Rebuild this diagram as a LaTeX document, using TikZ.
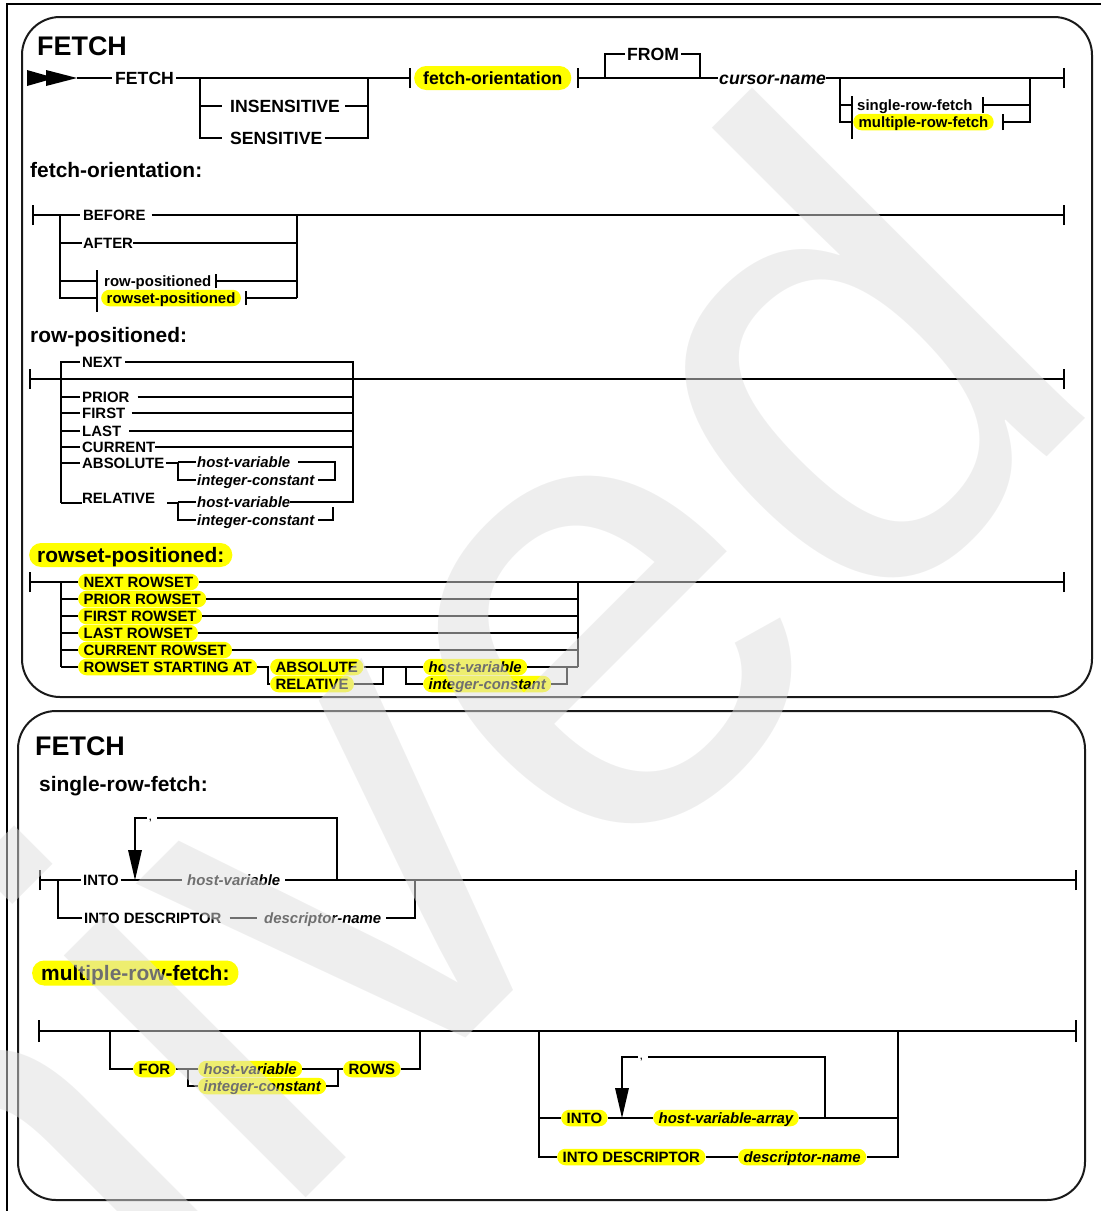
\documentclass[tikz,border=0pt]{standalone}
\usepackage{fontspec}
\setmainfont{Liberation Sans}
\definecolor{wmgray}{gray}{0.87}
\definecolor{hl}{RGB}{255,255,0}
\newcommand\termbar[2][10]{\draw[ln] ([yshift=-#1bp]#2) -- ([yshift=#1bp]#2);}
\begin{document}
\begin{tikzpicture}[x=1bp,y=-1bp,
  ln/.style={line width=1.3bp,black},
  frame/.style={line width=2bp,black!90,rounded corners=38bp},
  base/.style={inner sep=0pt,anchor=west},
  title/.style={base,font=\fontsize{27}{30}\selectfont\bfseries,text height=19.3bp,text depth=0pt},
  hd/.style={base,font=\fontsize{21}{24}\selectfont\bfseries,text height=15bp,text depth=0pt},
  big/.style={base,font=\fontsize{17.7}{20}\selectfont\bfseries,text height=12.7bp,text depth=0pt},
  bigi/.style={base,font=\fontsize{17.7}{20}\selectfont\bfseries\itshape,text height=12.7bp,text depth=0pt},
  mid/.style={base,font=\fontsize{15}{17}\selectfont\bfseries,text height=10.7bp,text depth=0pt},
  midi/.style={base,font=\fontsize{15}{17}\selectfont\bfseries\itshape,text height=10.7bp,text depth=0pt},
  pillL/.style={fill=hl,inner xsep=9bp,inner ysep=0pt,minimum height=24bp,rounded corners=11.9bp},
  pillH/.style={fill=hl,inner xsep=8bp,inner ysep=0pt,minimum height=24bp,rounded corners=11.9bp},
  pillM/.style={fill=hl,inner xsep=5.5bp,inner ysep=0pt,minimum height=16.5bp,rounded corners=8.2bp},
  commamark/.style={inner sep=0pt,anchor=base west,font=\fontsize{9}{9}\selectfont\bfseries},
]
\useasboundingbox (0,0) rectangle (1101,1211);
\clip (0,0) rectangle (1101,1211);

% page rule and the two panels
\draw[line width=1.3bp] (7,1211) -- (7,4) -- (1101,4);
\draw[frame] (22,17) rectangle (1092,697);
\draw[frame] (18,711) rectangle (1085,1200);

%% ---------------- panel 1: FETCH statement ----------------
\node[title] (t1) at (37,46) {FETCH};

% statement start marker
\fill (27,70) -- (55,78) -- (27,86) -- cycle;
\fill (46,70) -- (77,78) -- (46,86) -- cycle;
\coordinate (m1) at (77,78);
\node[big] (kfetch) at (115,78) {FETCH};
\draw[ln] (m1) -- ([xshift=-3bp]kfetch.west);
\coordinate (b1) at (410,78);
\draw[ln] ([xshift=2bp]kfetch.east) -- (b1);

% optional sensitivity
\coordinate (j1) at (200,78);
\coordinate (j2) at (368,78);
\node[big] (kins) at (230,106) {INSENSITIVE};
\node[big] (ksens) at (230,138) {SENSITIVE};
\draw[ln] (j1) |- ([xshift=-8bp]ksens.west);
\draw[ln] (j1 |- kins.west) -- ([xshift=-8bp]kins.west);
\draw[ln] ([xshift=5bp]kins.east) -| (j2);
\draw[ln] ([xshift=2bp]ksens.east) -| (j2);

% fetch-orientation reference
\termbar{b1}
\node[big,pillL] (pfo) at (414,78) {fetch-orientation};
\coordinate (b2) at (578,78);
\termbar{b2}

% optional FROM
\coordinate (f1) at (605,78);
\coordinate (f2) at (700,78);
\node[big] (kfrom) at (627,54) {FROM};
\draw[ln] (f1) |- ([xshift=-2bp]kfrom.west);
\draw[ln] ([xshift=2bp]kfrom.east) -| (f2);
\node[bigi] (kcur) at (719,78) {cursor-name};
\draw[ln] (b2) -- ([xshift=-1bp]kcur.west);
\coordinate (b3) at (1064,78);
\draw[ln] (kcur.east) -- (b3);
\termbar{b3}

% optional fetch clause
\coordinate (j3) at (840,78);
\coordinate (j4) at (1030,78);
\coordinate (bb) at (852,117);
\node[mid] (ksrf) at (857,105) {single-row-fetch};
\node[mid,pillM] (pmrf) at (853,122) {multiple-row-fetch};
\draw[ln] (852,96) -- (852,139);
\draw[ln] (j3) |- (bb |- pmrf.west);
\draw[ln] (j3 |- ksrf.west) -- (bb |- ksrf.west);
\coordinate (b4) at (983,105);
\coordinate (b5) at (1003,122);
\termbar[8]{b4}
\termbar[8]{b5}
\draw[ln] (b4) -| (j4);
\draw[ln] (b5) -| (j4);

%% fetch-orientation
\node[hd] (h1) at (30,170) {fetch-orientation:};
\coordinate (s1) at (33,215);
\coordinate (e1) at (1064,215);
\termbar{s1}
\termbar{e1}
\node[mid] (kbefore) at (83,215) {BEFORE};
\draw[ln] (s1) -- ([xshift=-3bp]kbefore.west);
\draw[ln] ([xshift=6bp]kbefore.east) -- (e1);
\coordinate (j5) at (60,215);
\coordinate (j6) at (297,215);
\node[mid] (kafter) at (83,243) {AFTER};
\node[mid] (krp) at (104,281) {row-positioned};
\node[mid,pillM] (prsp) at (101,298) {rowset-positioned};
\coordinate (vb) at (97,290);
\draw[ln] (97,270) -- (97,312);
\draw[ln] (j5) |- (vb |- prsp.west);
\draw[ln] (j5 |- kafter.west) -- ([xshift=-1bp]kafter.west);
\draw[ln] (j5 |- krp.west) -- (vb |- krp.west);
\draw[ln] (kafter.east) -- (j6 |- kafter.west);
\coordinate (b6) at (216,281);
\coordinate (b7) at (246,298);
\termbar[7]{b6}
\termbar[7]{b7}
\draw[ln] (b6) -- (j6 |- b6);
\draw[ln] (b7) -- (j6 |- b7);
\draw[ln] (j6) -- (j6 |- b7);

%% row-positioned
\node[hd] (h2) at (30,335) {row-positioned:};
\coordinate (s2) at (30,379);
\coordinate (e2) at (1064,379);
\termbar{s2}
\termbar{e2}
\draw[ln] (s2) -- (e2);
\coordinate (rl) at (61,362);
\coordinate (rr) at (353,362);
\node[mid] (knext) at (82,362) {NEXT};
\node[mid] (kprior) at (82,397) {PRIOR};
\node[mid] (kfirst) at (82,413) {FIRST};
\node[mid] (klast) at (82,431) {LAST};
\node[mid] (kcurrent) at (82,447) {CURRENT};
\node[mid] (kabs) at (82,463) {ABSOLUTE};
\node[mid] (krel) at (82,498) {RELATIVE};
\draw[ln] (61,503) -- (rl) -- ([xshift=-2bp]knext.west);
\draw[ln] ([xshift=3bp]knext.east) -- (rr) -- (353,503);
\foreach \k/\g in {kprior/8,kfirst/6,klast/8,kcurrent/0}{
  \draw[ln] (rl |- \k.west) -- ([xshift=-2bp]\k.west);
  \draw[ln] ([xshift=\g bp]\k.east) -- (rr |- \k.west);
}
\draw[ln] (rl |- kabs.west) -- ([xshift=-2bp]kabs.west);
\draw[ln] (61,503) -- (82,503);
% ABSOLUTE operand
\node[midi] (khv1) at (197,462) {host-variable};
\node[midi] (kic1) at (197,480) {integer-constant};
\draw[ln] ([xshift=1bp]kabs.east) -- (178,463) -- (178,480) -- ([xshift=-1bp]kic1.west);
\draw[ln] (178,462) -- ([xshift=-1bp]khv1.west);
\draw[ln] ([xshift=8bp]khv1.east) -- (335,462) -- (335,480) -- ([xshift=4bp]kic1.east);
% RELATIVE operand
\node[midi] (khv2) at (197,502) {host-variable};
\node[midi] (kic2) at (197,520) {integer-constant};
\draw[ln] (167,503) -- (178,503) -- (178,520) -- ([xshift=-1bp]kic2.west);
\draw[ln] (178,502) -- ([xshift=-1bp]khv2.west);
\draw[ln] (khv2.east) -- (353,502);
\draw[ln] ([xshift=4bp]kic2.east) -- (333,520) -- (333,507);

%% rowset-positioned
\node[hd,pillH] (h3) at (29,555) {rowset-positioned:};
\coordinate (s3) at (30,582);
\coordinate (e3) at (1064,582);
\termbar{s3}
\termbar{e3}
\node[mid,pillM] (r1) at (78,582) {NEXT ROWSET};
\node[mid,pillM] (r2) at (78,599) {PRIOR ROWSET};
\node[mid,pillM] (r3) at (78,616) {FIRST ROWSET};
\node[mid,pillM] (r4) at (78,633) {LAST ROWSET};
\node[mid,pillM] (r5) at (78,650) {CURRENT ROWSET};
\node[mid,pillM] (r6) at (78,667) {ROWSET STARTING AT};
\draw[ln] (s3) -- (r1.west);
\draw[ln] (r1.east) -- (e3);
\coordinate (ql) at (61,582);
\coordinate (qr) at (578,582);
\draw[ln] (ql) -- (ql |- r6.west);
\draw[ln] (qr) -- (qr |- r6.west);
\foreach \k in {r2,r3,r4,r5}{
  \draw[ln] (ql |- \k.west) -- (\k.west);
  \draw[ln] (\k.east) -- (qr |- \k.west);
}
\draw[ln] (ql |- r6.west) -- (r6.west);
\node[mid,pillM] (pabs) at (270,667) {ABSOLUTE};
\node[mid,pillM] (prel) at (270,684) {RELATIVE};
\node[midi,pillM] (phv) at (423,667) {host-variable};
\node[midi,pillM] (pic) at (423,684) {integer-constant};
\draw[ln] (r6.east) -- (268,667) -- (268,684) -- (prel.west);
\draw[ln] (pabs.east) -- (406,667) -- (406,684) -- (pic.west);
\draw[ln] (406,667) -- (phv.west);
\draw[ln] (prel.east) -- (383,684) -- (383,667);
\draw[ln] (phv.east) -- (qr |- phv.west);
\draw[ln] (pic.east) -- (567,684) -- (567,667);

%% ---------------- panel 2: fetch clauses ----------------
\node[title] (t2) at (35,746) {FETCH};

%% single-row-fetch
\node[hd] (h4) at (39,784) {single-row-fetch:};
\coordinate (s4) at (40,880);
\coordinate (e4) at (1076,880);
\termbar{s4}
\termbar{e4}
\node[mid] (kinto) at (83,880) {INTO};
\node[midi] (khv3) at (187,880) {host-variable};
\draw[ln] (s4) -- ([xshift=-2bp]kinto.west);
\draw[ln] ([xshift=2bp]kinto.east) -- ([xshift=-5bp]khv3.west);
\draw[ln] ([xshift=5bp]khv3.east) -- (e4);
\coordinate (a1) at (135,880);
\coordinate (a1top) at (135,850);
\fill (a1) -- (128,850) -- (142,850) -- cycle;
\node[commamark] (cm1) at (149,820) {,};
\draw[ln] (a1top) |- (147,818);
\draw[ln] (157,818) -| (337,880);
\node[mid] (kid) at (84,918) {INTO DESCRIPTOR};
\node[midi] (kdn) at (264,918) {descriptor-name};
\draw[ln] (58,880) |- ([xshift=-2bp]kid.west);
\draw[ln] ([xshift=8bp]kid.east) -- ([xshift=-7bp]kdn.west);
\draw[ln] ([xshift=5bp]kdn.east) -| (415,880);

%% multiple-row-fetch
\node[hd,pillH,inner xsep=9bp,minimum height=25bp] (h5) at (32,973) {multiple-row-fetch:};
\coordinate (s5) at (39,1031);
\coordinate (e5) at (1076,1031);
\termbar[11]{s5}
\termbar[11]{e5}
\draw[ln] (s5) -- (e5);
% FOR ... ROWS
\node[mid,pillM] (pfor) at (133,1069) {FOR};
\node[midi,pillM] (phv4) at (198,1069) {host-variable};
\node[midi,pillM] (pic4) at (198,1086) {integer-constant};
\node[mid,pillM] (prows) at (343,1069) {ROWS};
\coordinate (g1) at (188,1069);
\draw[ln] (110,1031) |- (pfor.west);
\draw[ln] (pfor.east) -- (g1) -- (188,1086) -- (pic4.west);
\draw[ln] (g1) -- (phv4.west);
\draw[ln] (phv4.east) -- (prows.west);
\draw[ln] (pic4.east) -- (338,1086) -- (338,1069);
\draw[ln] (prows.east) -| (420,1031);
% INTO targets
\node[mid,pillM] (pinto) at (561,1118) {INTO};
\node[midi,pillM] (phva) at (653,1118) {host-variable-array};
\node[mid,pillM] (pid) at (557,1157) {INTO DESCRIPTOR};
\node[midi,pillM] (pdn) at (738,1157) {descriptor-name};
\draw[ln] (539,1031) -- (539,1157) -- (pid.west);
\draw[ln] (898,1031) -- (898,1157) -- (pdn.east);
\draw[ln] (539,1118) -- (pinto.west);
\draw[ln] (pinto.east) -- (phva.west);
\draw[ln] (phva.east) -- (898,1118);
\draw[ln] (pid.east) -- (pdn.west);
\coordinate (a2) at (622,1118);
\coordinate (a2top) at (622,1088);
\fill (a2) -- (615,1088) -- (629,1088) -- cycle;
\node[commamark] (cm2) at (640,1059) {,};
\draw[ln] (a2top) |- (638,1057);
\draw[ln] (648,1057) -| (825,1118);

%% watermark
\node[rotate=45,inner sep=0pt,text=wmgray,opacity=0.5,text opacity=0.5,
      font=\fontsize{650}{650}\selectfont,text height=465bp,text depth=0pt] (wm) at (60,1115) {Archived};
\end{tikzpicture}
\end{document}
